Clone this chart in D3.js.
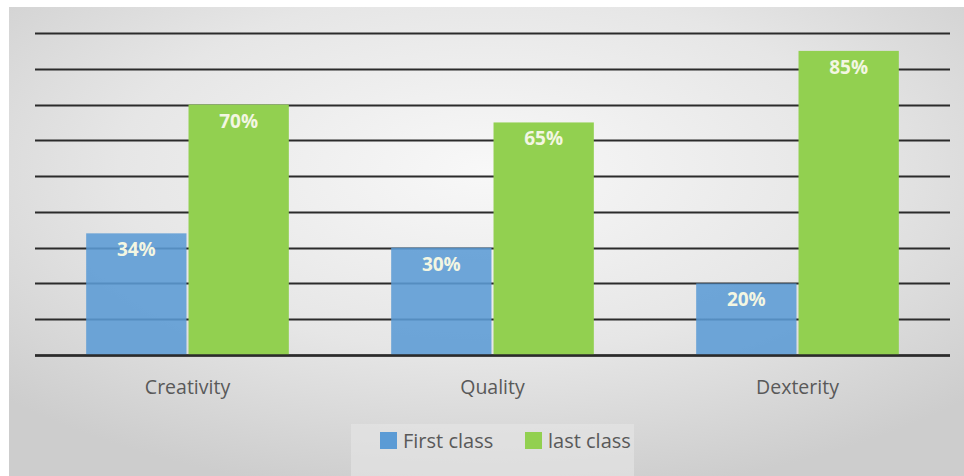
<!DOCTYPE html>
<html><head><meta charset="utf-8">
<script src="https://cdn.jsdelivr.net/npm/d3@7"></script>
<style>html,body{margin:0;padding:0;background:#fff;}svg{display:block;}</style>
</head><body>
<script>
const categories = ["Creativity", "Quality", "Dexterity"];
const seriesNames = ["First class", "last class"];
const firstClass = [34, 30, 20];
const lastClass = [70, 65, 85];
const gridTicks = [0,10,20,30,40,50,60,70,80,90];
const colors = ["#5b9bd5", "#92d050"];

(function(){
const W = 964, H = 476;
const FONT = "'Open Sans', 'Noto Sans', sans-serif";
const svg = d3.select("body").append("svg").attr("width", W).attr("height", H);
const defs = svg.append("defs");
const rg = defs.append("radialGradient").attr("id","bg")
  .attr("cx","50%").attr("cy","35%").attr("r","70%");
rg.append("stop").attr("offset","0%").attr("stop-color","#f8f8f8");
rg.append("stop").attr("offset","55%").attr("stop-color","#e6e6e6");
rg.append("stop").attr("offset","100%").attr("stop-color","#cdcdcd");
svg.append("rect").attr("x",9).attr("y",7).attr("width",W-9).attr("height",H-7).attr("fill","url(#bg)");

const pLeft = 35, pRight = 950, pTop = 33, pBottom = 355;
const y = d3.scaleLinear().domain([0, 90]).range([pBottom, pTop]);
const x0 = d3.scaleBand().domain(categories).range([pLeft, pRight]).padding(0);
const x1 = d3.scaleBand().domain(seriesNames).range([0, x0.bandwidth()]).paddingInner(0.02).paddingOuter(0.5);

svg.append("g").selectAll("line").data(gridTicks).join("line")
  .attr("x1", pLeft).attr("x2", pRight)
  .attr("y1", d => Math.round(y(d))+0.5).attr("y2", d => Math.round(y(d))+0.5)
  .attr("stroke", "#2b2b2b").attr("stroke-width", 2.2);

const data = categories.map((c,i) => ({cat:c, vals:[firstClass[i], lastClass[i]]}));
const groups = svg.append("g").selectAll("g").data(data).join("g")
  .attr("transform", d => `translate(${x0(d.cat)},0)`);
groups.selectAll("rect").data(d => d.vals.map((v,j)=>({v, s:seriesNames[j], j}))).join("rect")
  .attr("x", d => x1(d.s)).attr("width", x1.bandwidth())
  .attr("y", d => y(d.v)).attr("height", d => y(0) - y(d.v))
  .attr("fill", d => colors[d.j]).attr("fill-opacity", d => d.j===0 ? 0.88 : 1);
groups.selectAll("text").data(d => d.vals.map((v,j)=>({v, s:seriesNames[j], j}))).join("text")
  .attr("x", d => x1(d.s) + x1.bandwidth()/2).attr("y", d => y(d.v) + 23)
  .attr("text-anchor","middle").attr("font-family",FONT)
  .attr("font-weight","bold").attr("font-size",19).attr("fill","#f3f6e2")
  .text(d => d.v + "%");

svg.append("line").attr("x1",pLeft).attr("x2",pRight).attr("y1",Math.round(y(0))+0.5).attr("y2",Math.round(y(0))+0.5)
  .attr("stroke","#2b2b2b").attr("stroke-width",2.4);

const xAxis = d3.axisBottom(x0).tickSize(0).tickPadding(0);
const ax = svg.append("g").attr("transform",`translate(0,${pBottom+39})`).call(xAxis);
ax.select(".domain").remove();
ax.selectAll("text").attr("font-family",FONT).attr("font-size",19.5).attr("fill","#595959").attr("dy",0);

svg.append("rect").attr("x",351).attr("y",424).attr("width",283).attr("height",52).attr("fill","#e6e6e6").attr("opacity",0.6);
const leg = svg.append("g").attr("font-family",FONT).attr("font-size",20).attr("fill","#595959");
const legX = [380, 525];
seriesNames.forEach((s,i) => {
  leg.append("rect").attr("x",legX[i]).attr("y",432).attr("width",17).attr("height",17).attr("fill",colors[i]);
  leg.append("text").attr("x",legX[i]+23).attr("y",448).text(s);
});
})();
</script>
</body></html>
